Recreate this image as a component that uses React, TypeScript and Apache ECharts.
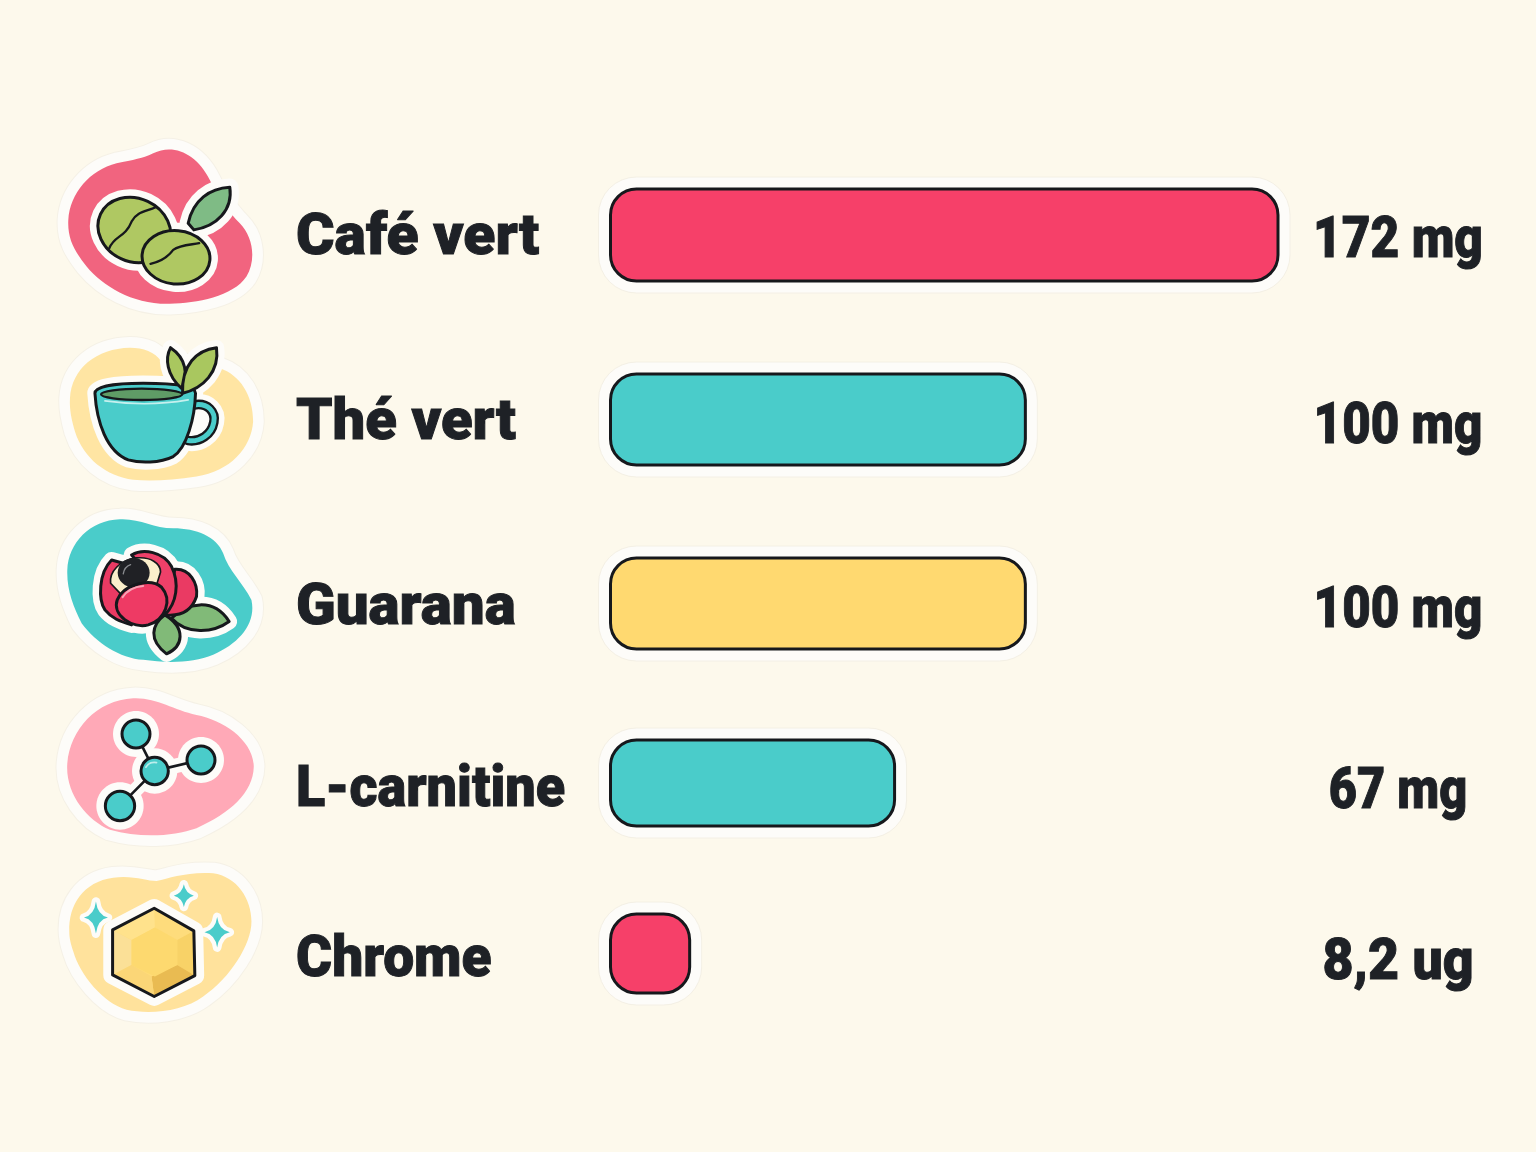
import React, { useEffect, useRef } from "react";
import * as echarts from "echarts";

// ---- data ----
const categories = ["Café vert", "Thé vert", "Guarana", "L-carnitine", "Chrome"];
const valueLabels = ["172 mg", "100 mg", "100 mg", "67 mg", "8,2 ug"];
// Bar lengths as drawn, on a scale where the longest bar is 172.
// (The drawn bars are not strictly proportional to the printed labels.)
const barLengths = [172, 106.9, 106.9, 73.2, 20.4];

// ---- layout and style ----
const rowCenters = [235, 419.5, 603.5, 783, 953.5];
const rowHeights = [92, 91, 91, 86, 79];
const labelYs = [234, 418.5, 604, 786, 956.5];
const valueYs = [237, 423.5, 607.5, 787.5, 959.5];
const labelScales = [1.015, 1.0, 1.005, 0.93, 0.95];
const valueScales = [0.855, 0.85, 0.85, 0.84, 0.925];
const rowColors = ["#F64069", "#4ACCCA", "#FFD970", "#4ACCCA", "#F64069"];
const INK = "#16181C";
const HALO = "#FDFCF9";
const TEAL = "#4ACCCA";

// ---- icon helpers: coordinates are in a 3x local space ----
let shapeCount = 0;
function P(d: string, style: any) {
  const name = "iconShape" + shapeCount++;
  echarts.graphic.registerShape(name, echarts.graphic.extendPath(d, {}) as any);
  return { type: name, x: 0, y: 0, style: { lineJoin: "round", lineCap: "round", ...style } };
}
function E(cx: number, cy: number, rx: number, ry: number, rot: number, style: any) {
  return { type: "ellipse", x: cx, y: cy, rotation: (rot * Math.PI) / 180, shape: { cx: 0, cy: 0, rx, ry }, style };
}
function Ln(x1: number, y1: number, x2: number, y2: number, style: any) {
  return { type: "line", shape: { x1, y1, x2, y2 }, style: { lineCap: "round", ...style } };
}
const outline = { stroke: INK, lineWidth: 9 };
const haloStroke = (w: number) => ({ fill: HALO, stroke: HALO, lineWidth: w });
const icon = (x: number, y: number, children: any[]) => ({ type: "group", x, y, scaleX: 1 / 3, scaleY: 1 / 3, children });
const blob = (d: string, fill: string) => [
  P(d, { fill: HALO, stroke: "#F5F1E6", lineWidth: 70 }),
  P(d, { fill: HALO, stroke: HALO, lineWidth: 64 }),
  P(d, { fill }),
];

function star(cx: number, cy: number, rx: number, ry: number) {
  return `M${cx} ${cy - ry}Q${cx + 5} ${cy - 7} ${cx + rx} ${cy}Q${cx + 5} ${cy + 7} ${cx} ${cy + ry}Q${cx - 5} ${cy + 7} ${cx - rx} ${cy}Q${cx - 5} ${cy - 7} ${cx} ${cy - ry}Z`;
}

function buildIcons() {
  const leaf1 = "M570 202C510 205 460 240 445 310L462 330C530 320 580 270 570 202Z";
  const coffee = icon(40, 120, [
    ...blob("M85 300C90 220 150 150 230 130C280 120 310 115 340 100C400 70 470 100 510 180C530 225 570 280 600 310C640 350 650 420 620 470C580 530 470 550 390 552C280 555 190 500 140 440C105 395 82 360 85 300Z", "#F1647F"),
    P(leaf1, haloStroke(52)),
    E(283, 330, 112, 95, -25, haloStroke(48)),
    E(408, 412, 102, 80, -5, haloStroke(48)),
    P(leaf1, { fill: "#7FBB85", ...outline }),
    E(283, 330, 112, 95, -25, { fill: "#AFC862", ...outline }),
    P("M208 385C225 345 255 355 275 305C290 275 320 275 347 262", { fill: "none", ...outline, lineWidth: 7 }),
    E(408, 412, 102, 80, -5, { fill: "#AFC862", ...outline }),
    P("M332 432C365 425 385 410 400 390C420 375 450 375 478 370", { fill: "none", ...outline, lineWidth: 7 }),
  ]);

  const cupBody = "M165 205C170 290 200 380 265 405C300 415 360 415 400 395C440 370 465 280 467 205C467 185 420 175 310 175C220 175 165 185 165 205Z";
  const handle = "M462 240C505 232 528 262 522 292C515 330 480 352 445 347";
  const leafL = "M392 68C375 100 380 150 425 190C445 150 440 100 392 68Z";
  const leafR = "M530 68C470 75 425 120 428 205C490 190 540 140 530 68Z";
  const tea = icon(40, 325, [
    ...blob("M90 220C95 130 170 70 270 68C310 68 345 80 365 110L540 130C600 150 640 210 640 290C635 370 570 440 470 455C400 465 340 470 280 465C200 455 130 400 105 320C95 285 88 255 90 220Z", "#FFE5A3"),
    P(cupBody, haloStroke(46)),
    P(handle + "L465 230Z", haloStroke(62)),
    P(leafL, haloStroke(46)),
    P(leafR, haloStroke(46)),
    P(handle, { fill: "none", stroke: INK, lineWidth: 29 }),
    P(handle, { fill: "none", stroke: TEAL, lineWidth: 15 }),
    P(cupBody, { fill: TEAL, ...outline }),
    E(305, 208, 122, 17, 0, { fill: "#5F9C66", ...outline, lineWidth: 7 }),
    P("M195 228C280 240 360 240 445 225", { fill: "none", stroke: "#C6F0EE", lineWidth: 5 }),
    P(leafL, { fill: "#A9C75F", ...outline }),
    P(leafR, { fill: "#A9C75F", ...outline }),
  ]);

  const leafA = "M395 355C440 310 520 290 568 365C520 400 440 405 395 355Z";
  const leafB = "M375 345C335 375 325 420 380 462C430 440 440 385 375 345Z";
  const backPetal = "M405 208C450 205 475 250 470 290C455 335 420 350 375 345Z";
  const leftPetal = "M215 180C175 220 175 300 195 330C215 355 240 365 275 375L300 300L250 190Z";
  const topPetal = "M275 165C310 145 370 155 395 200C420 250 410 310 375 345L350 250Z";
  const frontPetal = "M232 300C250 255 330 232 365 262C398 300 378 358 325 375C278 388 215 345 232 300Z";
  const guarana = icon(40, 500, [
    ...blob("M82 210C85 130 150 60 240 58C300 55 340 85 400 85C470 85 530 110 550 160C565 210 610 250 635 300C650 370 600 430 520 465C460 490 380 490 310 480C240 475 170 430 125 370C100 320 80 270 82 210Z", TEAL),
    ...[leafA, leafB, backPetal, leftPetal, topPetal, frontPetal].map((d) => P(d, haloStroke(48))),
    P(leafA, { fill: "#81BA78", ...outline }),
    P(leafB, { fill: "#81BA78", ...outline }),
    P(backPetal, { fill: "#EA3A63", ...outline }),
    P(leftPetal, { fill: "#EA3A63", ...outline }),
    P(topPetal, { fill: "#EE4069", ...outline }),
    P("M212 250C208 215 238 182 290 174C332 170 362 190 362 216L350 255L245 285Z", { fill: "#FBEFCB", ...outline, lineWidth: 5 }),
    E(281, 218, 48, 44, 0, { fill: "#202125" }),
    P("M250 222C252 208 260 198 272 194", { fill: "none", stroke: "#8A8C90", lineWidth: 4 }),
    P(frontPetal, { fill: "#EE3A64", ...outline }),
    P("M248 292C262 270 285 260 310 258", { fill: "none", stroke: "#F8A5B5", lineWidth: 6 }),
  ]);

  const nodes = [
    [288, 162, 42],
    [483, 240, 42],
    [344, 273, 41],
    [240, 378, 44],
  ];
  const spokes = [0, 1, 3];
  const molecule = icon(40, 680, [
    ...blob("M82 250C90 150 170 60 280 55C350 52 400 90 470 105C550 120 640 180 642 260C640 340 570 400 470 445C400 470 300 475 210 450C140 420 75 340 82 250Z", "#FFA9B7"),
    ...spokes.map((i) => Ln(nodes[i][0], nodes[i][1], nodes[2][0], nodes[2][1], { stroke: HALO, lineWidth: 44 })),
    ...nodes.map((n) => E(n[0], n[1], n[2] + 27, n[2] + 27, 0, { fill: HALO })),
    ...spokes.map((i) => Ln(nodes[i][0], nodes[i][1], nodes[2][0], nodes[2][1], { stroke: INK, lineWidth: 8 })),
    ...nodes.map((n) => E(n[0], n[1], n[2], n[2], 0, { fill: TEAL, ...outline })),
    P("M318 262C325 250 338 246 350 248", { fill: "none", stroke: "#BDEEEC", lineWidth: 5 }),
  ]);

  const hex = "M343 160L462 228L465 362L343 425L218 360L218 225Z";
  const stars = [star(168, 188, 36, 48), star(432, 122, 30, 34), star(532, 232, 38, 46)];
  const chrome = icon(40, 855, [
    ...blob("M88 230C85 150 130 80 220 68C280 60 320 78 350 78C390 70 440 50 520 55C590 65 635 130 635 200C635 270 570 370 490 425C430 470 330 480 260 465C190 445 120 360 100 290C92 265 88 250 88 230Z", "#FFE29C"),
    P(hex, haloStroke(56)),
    ...stars.map((d) => P(d, haloStroke(26))),
    ...stars.map((d) => P(d, { fill: TEAL })),
    P(hex, { fill: "#FFDB78" }),
    P("M343 160L462 228L412 255L345 218Z", { fill: "#FEDC7C" }),
    P("M343 160L218 225L275 255L345 218Z", { fill: "#FFE28C" }),
    P("M218 225L218 360L275 330L275 255Z", { fill: "#FBE097" }),
    P("M462 228L465 362L412 330L412 255Z", { fill: "#F8D267" }),
    P("M465 362L343 425L335 365L412 330Z", { fill: "#E9BB52" }),
    P("M218 360L343 425L335 365L275 330Z", { fill: "#FBD677" }),
    P("M345 218L412 255L412 330L345 365L275 330L275 255Z", { fill: "#FDD96F" }),
    P(hex, { fill: "none", stroke: INK, lineWidth: 9 }),
  ]);
  return [coffee, tea, guarana, molecule, chrome];
}

export default function App() {
  const ref = useRef<HTMLDivElement>(null);
  useEffect(() => {
    document.body.style.margin = "0";
    document.documentElement.style.overflow = "hidden";
    const chart = echarts.init(ref.current!, undefined, { renderer: "svg" });
    chart.setOption({
      animation: false,
      backgroundColor: "#FDF9EC",
      grid: { left: 610.5, right: 258, top: 0, bottom: 0 },
      xAxis: { type: "value", min: 0, max: 172, show: false },
      yAxis: { type: "category", data: categories, inverse: true, show: false },
      graphic: buildIcons(),
      series: [
        {
          type: "custom",
          clip: false,
          data: barLengths.map((v, i) => [v, i]),
          encode: { x: 0, y: 1 },
          renderItem: (_: any, api: any) => {
            const i = api.value(1);
            const x0 = api.coord([0, i])[0];
            const x1 = api.coord([api.value(0), i])[0];
            const h = rowHeights[i];
            const y = rowCenters[i] - h / 2;
            const w = x1 - x0;
            const font = {
              fontFamily: "Roboto",
              fontWeight: 900,
              fontSize: 58,
              fill: "#1E2126",
              stroke: "#1E2126",
              lineWidth: 1,
            };
            return {
              type: "group",
              children: [
                {
                  type: "rect",
                  shape: { x: x0 - 12, y: y - 12, width: w + 24, height: h + 24, r: 38 },
                  style: { fill: HALO, stroke: "#F4F0E5", lineWidth: 1 },
                },
                {
                  type: "rect",
                  shape: { x: x0, y, width: w, height: h, r: 26 },
                  style: { fill: rowColors[i], stroke: INK, lineWidth: 3 },
                },
                {
                  type: "text",
                  x: 296,
                  y: labelYs[i],
                  scaleX: labelScales[i],
                  style: { ...font, text: categories[i], align: "left", verticalAlign: "middle" },
                },
                {
                  type: "text",
                  x: 1398,
                  y: valueYs[i],
                  scaleX: valueScales[i],
                  style: { ...font, text: valueLabels[i], align: "center", verticalAlign: "middle" },
                },
              ],
            };
          },
        },
      ],
    });
    return () => chart.dispose();
  }, []);
  return <div ref={ref} style={{ width: 1536, height: 1152 }} />;
}
